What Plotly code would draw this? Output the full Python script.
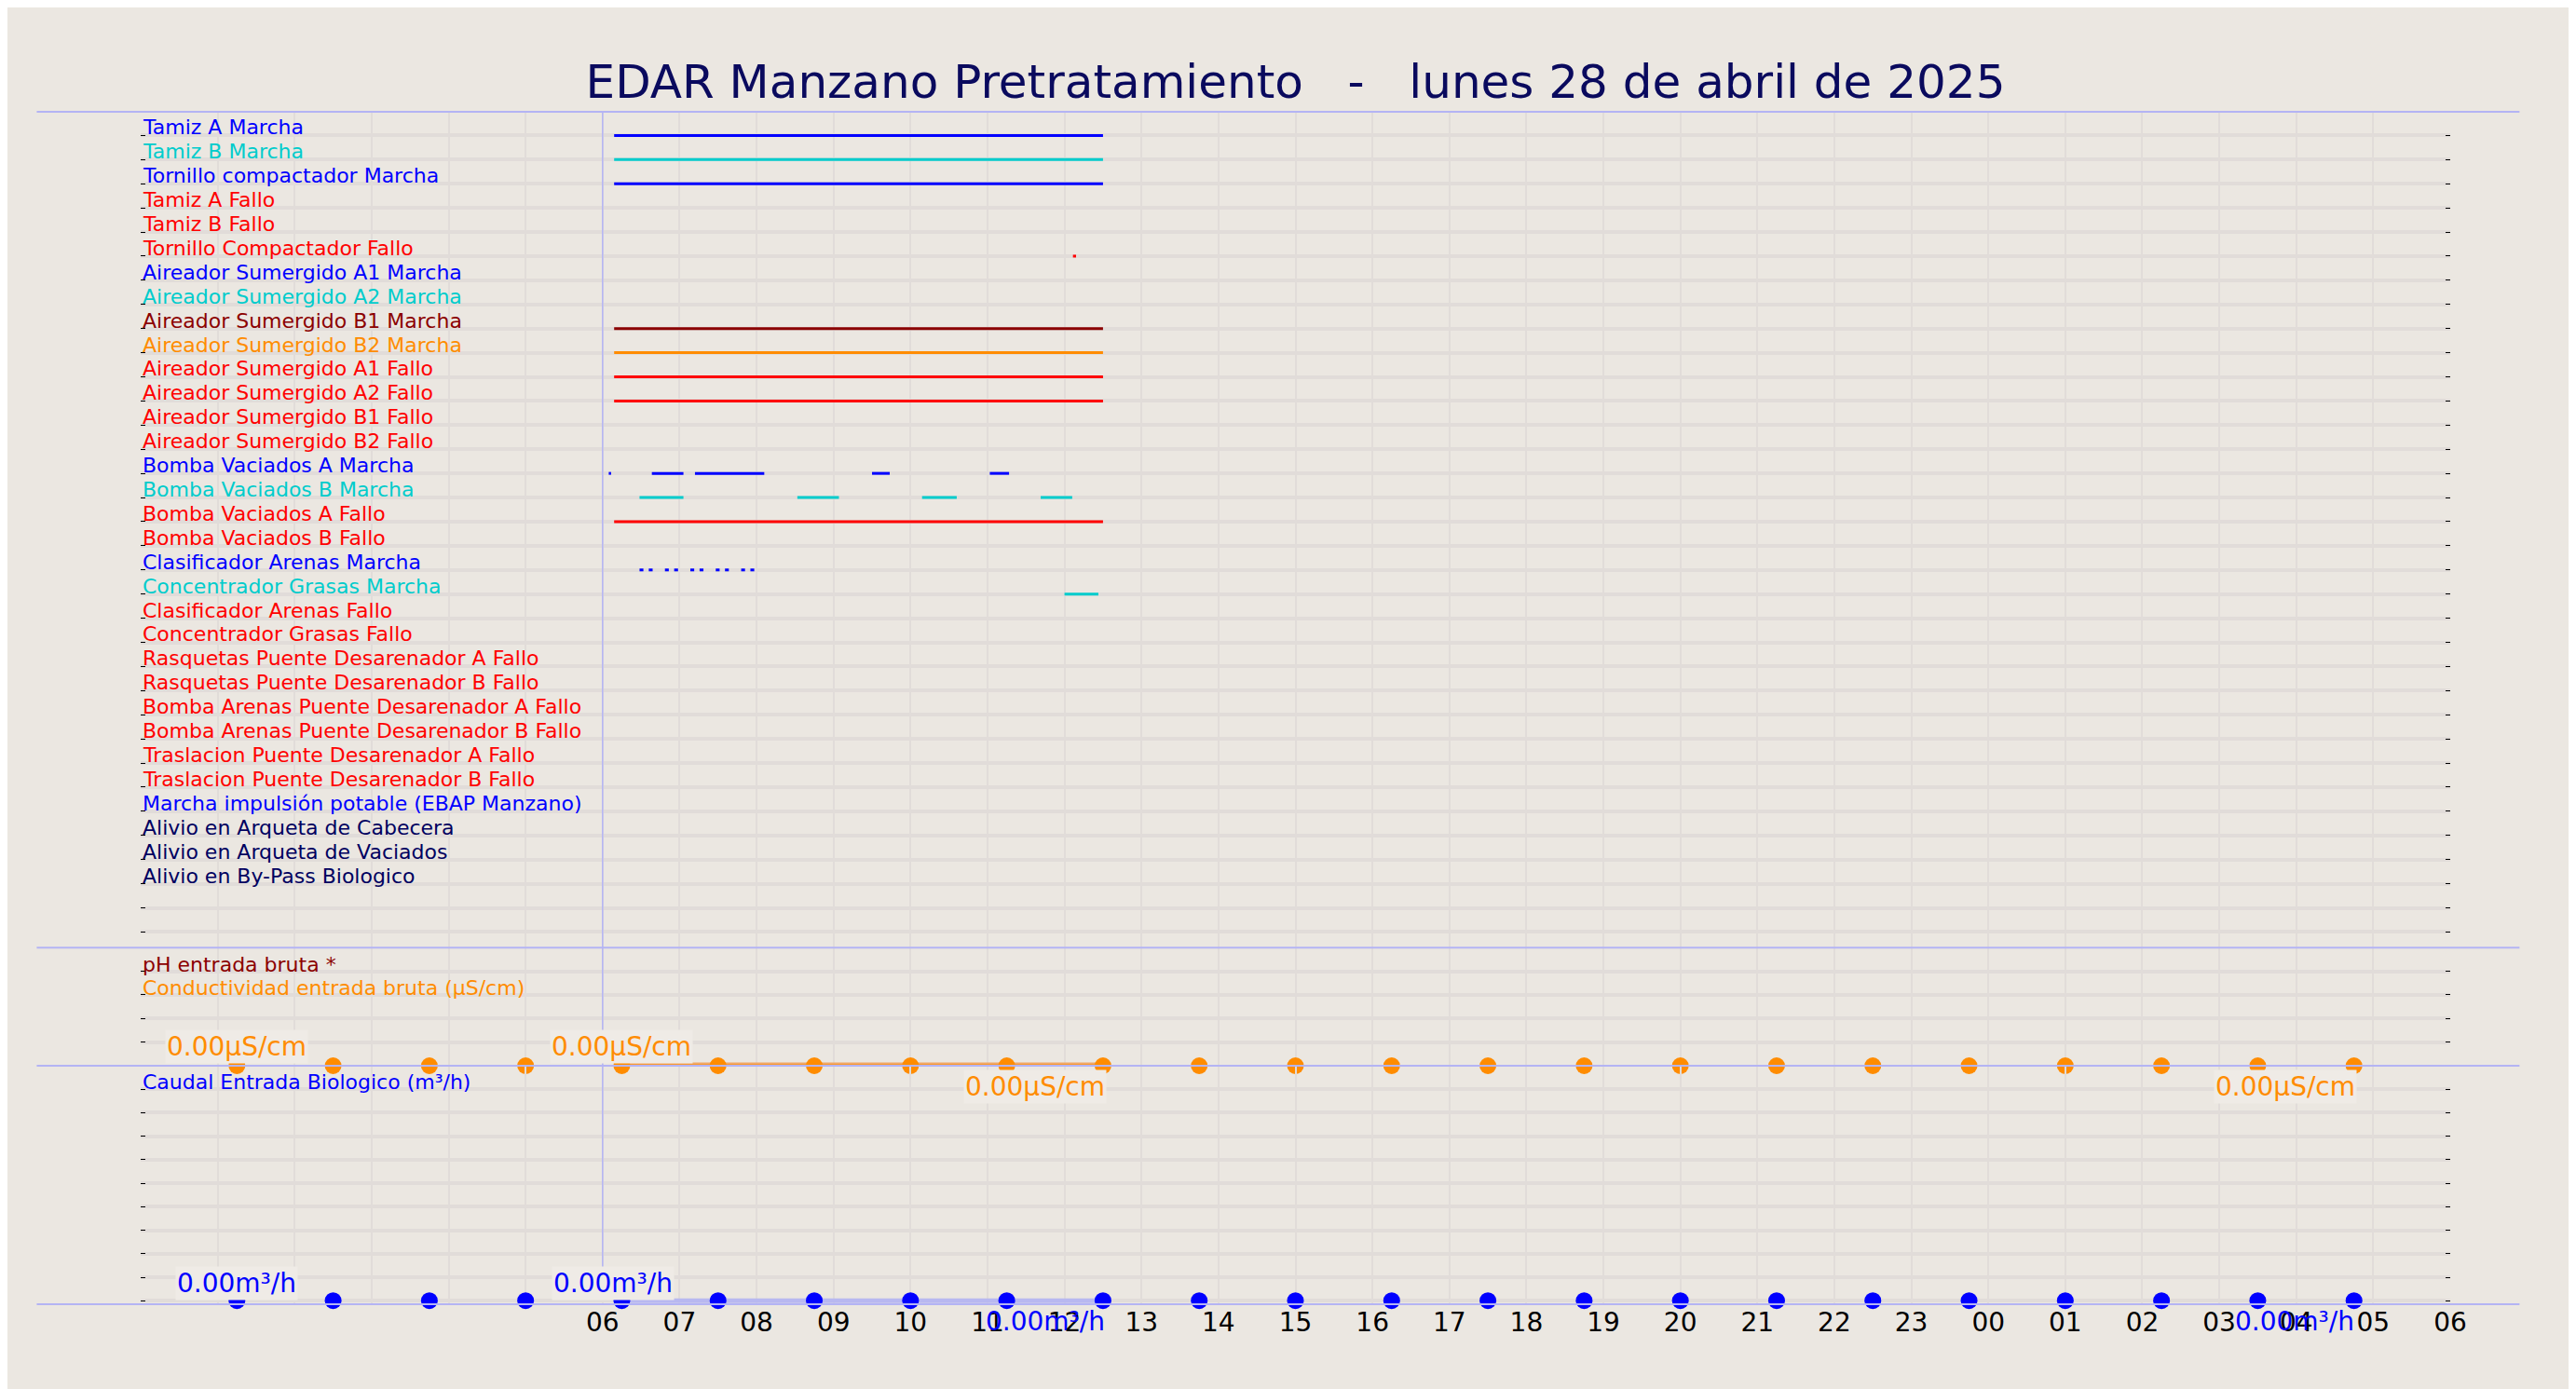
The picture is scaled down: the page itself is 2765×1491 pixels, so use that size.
import plotly.graph_objects as go

TITLE = "EDAR Manzano Pretratamiento   -   lunes 28 de abril de 2025"

# Digital signals (rows of the upper panel)
signal_names = [
    "Tamiz A Marcha", "Tamiz B Marcha", "Tornillo compactador Marcha", "Tamiz A Fallo", "Tamiz B Fallo",
    "Tornillo Compactador Fallo", "Aireador Sumergido A1 Marcha", "Aireador Sumergido A2 Marcha",
    "Aireador Sumergido B1 Marcha", "Aireador Sumergido B2 Marcha", "Aireador Sumergido A1 Fallo",
    "Aireador Sumergido A2 Fallo", "Aireador Sumergido B1 Fallo", "Aireador Sumergido B2 Fallo",
    "Bomba Vaciados A Marcha", "Bomba Vaciados B Marcha", "Bomba Vaciados A Fallo", "Bomba Vaciados B Fallo",
    "Clasificador Arenas Marcha", "Concentrador Grasas Marcha", "Clasificador Arenas Fallo",
    "Concentrador Grasas Fallo", "Rasquetas Puente Desarenador A Fallo", "Rasquetas Puente Desarenador B Fallo",
    "Bomba Arenas Puente Desarenador A Fallo", "Bomba Arenas Puente Desarenador B Fallo",
    "Traslacion Puente Desarenador A Fallo", "Traslacion Puente Desarenador B Fallo",
    "Marcha impulsión potable (EBAP Manzano)", "Alivio en Arqueta de Cabecera",
    "Alivio en Arqueta de Vaciados", "Alivio en By-Pass Biologico",
]
signal_colors = [
    "#0000ff", "#00cccc", "#0000ff", "#ff0000", "#ff0000", "#ff0000", "#0000ff", "#00cccc",
    "#8b0000", "#ff8c00", "#ff0000", "#ff0000", "#ff0000", "#ff0000", "#0000ff", "#00cccc",
    "#ff0000", "#ff0000", "#0000ff", "#00cccc", "#ff0000", "#ff0000", "#ff0000", "#ff0000",
    "#ff0000", "#ff0000", "#ff0000", "#ff0000", "#0000ff", "#000060", "#000060", "#000060",
]
# active intervals, hours since 28/04 00:00
signal_intervals = {
    0: [(6.15, 12.5)],
    1: [(6.15, 12.5)],
    2: [(6.15, 12.5)],
    5: [(12.11, 12.15)],
    8: [(6.15, 12.5)],
    9: [(6.15, 12.5)],
    10: [(6.15, 12.5)],
    11: [(6.15, 12.5)],
    14: [(6.08, 6.11), (6.64, 7.05), (7.2, 8.1), (9.5, 9.73), (11.03, 11.28)],
    15: [(6.48, 7.05), (8.53, 9.07), (10.15, 10.6), (11.69, 12.1)],
    16: [(6.15, 12.5)],
    18: [(6.48, 6.53), (6.6, 6.65), (6.81, 6.86), (6.93, 6.98), (7.14, 7.19), (7.26, 7.31),
         (7.47, 7.52), (7.59, 7.64), (7.8, 7.85), (7.92, 7.97)],
    19: [(12.0, 12.44)],
}

# Analog series
sample_hours = [1.25, 2.5, 3.75, 5.0, 6.25, 7.5, 8.75, 10.0, 11.25, 12.5, 13.75, 15.0, 16.25,
                17.5, 18.75, 20.0, 21.25, 22.5, 23.75, 25.0, 26.25, 27.5, 28.75]
conductividad = [0, 0, 0, 0, 0, 0, 0, 0, 0, 0, 0, 0, 0, 0, 0, 0, 0, 0, 0, 0, 0, 0, 0]
caudal = [0, 0, 0, 0, 0, 0, 0, 0, 0, 0, 0, 0, 0, 0, 0, 0, 0, 0, 0, 0, 0, 0, 0]
line_hours = [6.25, 7.5, 8.75, 10.0, 11.25, 12.5]
line_cond = [0, 0, 0, 0, 0, 0]
line_caudal = [0, 0, 0, 0, 0, 0]

hour_ticks = list(range(0, 31))
hour_labels = ["" if h < 6 else f"{h % 24:02d}" for h in hour_ticks]

cond_labels = [(1.25, "above"), (6.25, "above"), (11.62, "below"), (27.86, "below")]
caudal_labels = [(1.25, "above"), (6.14, "above"), (11.75, "below"), (27.98, "below")]

BG = "#ebe7e1"
GRID = "#e1dcd9"
FONT = "DejaVu Sans"

fig = go.Figure()

for row, ivs in signal_intervals.items():
    xs, ys = [], []
    for a, b in ivs:
        xs += [a, b, None]
        ys += [row, row, None]
    fig.add_trace(go.Scatter(x=xs, y=ys, mode="lines", line=dict(color=signal_colors[row], width=3),
                             xaxis="x", yaxis="y", showlegend=False, hoverinfo="skip"))

fig.add_trace(go.Scatter(x=line_hours, y=line_cond, mode="lines", line=dict(color="#f0a868", width=7),
                         xaxis="x2", yaxis="y2", showlegend=False, cliponaxis=False))
fig.add_trace(go.Scatter(x=line_hours, y=line_cond, mode="lines", line=dict(color="#ff8c00", width=3),
                         xaxis="x2", yaxis="y2", showlegend=False, cliponaxis=False))
fig.add_trace(go.Scatter(x=sample_hours, y=conductividad, mode="markers",
                         marker=dict(color="#ff8c00", size=18), xaxis="x2", yaxis="y2",
                         showlegend=False, cliponaxis=False))
fig.add_trace(go.Scatter(x=line_hours, y=line_caudal, mode="lines", line=dict(color="#b8b8f0", width=5),
                         xaxis="x3", yaxis="y3", showlegend=False, cliponaxis=False))
fig.add_trace(go.Scatter(x=sample_hours, y=caudal, mode="markers",
                         marker=dict(color="#0000ff", size=18), xaxis="x3", yaxis="y3",
                         showlegend=False, cliponaxis=False))

ann = []
for i, name in enumerate(signal_names):
    ann.append(dict(x=0, xref="x domain", y=i - 0.33, yref="y", text=name, showarrow=False,
                    xanchor="left", yanchor="middle", font=dict(color=signal_colors[i], size=22, family=FONT)))
ann.append(dict(x=0, xref="x2 domain", y=0.86, yref="y2 domain", text="pH entrada bruta *", showarrow=False,
                xanchor="left", yanchor="middle", font=dict(color="#8b0000", size=22, family=FONT)))
ann.append(dict(x=0, xref="x2 domain", y=0.66, yref="y2 domain", text="Conductividad entrada bruta (µS/cm)",
                showarrow=False, xanchor="left", yanchor="middle", font=dict(color="#ff8c00", size=22, family=FONT)))
ann.append(dict(x=0, xref="x3 domain", y=0.93, yref="y3 domain", text="Caudal Entrada Biologico (m³/h)",
                showarrow=False, xanchor="left", yanchor="middle", font=dict(color="#0000ff", size=22, family=FONT)))
for h, pos in cond_labels:
    ann.append(dict(x=h, xref="x2", y=0, yref="y2", text="0.00µS/cm", showarrow=False,
                    yanchor="bottom" if pos == "above" else "top", yshift=2 if pos == "above" else -4,
                    bgcolor="#efebe6", font=dict(color="#ff8c00", size=28, family=FONT)))
for h, pos in caudal_labels:
    ann.append(dict(x=h, xref="x3", y=0, yref="y3", text="0.00m³/h", showarrow=False,
                    yanchor="bottom" if pos == "above" else "top", yshift=0 if pos == "above" else -4,
                    bgcolor="#efebe6" if pos == "above" else "rgba(0,0,0,0)",
                    font=dict(color="#0000ff", size=28, family=FONT)))

shapes = []
for yp in [1.0, 0.299, 0.2, 0.0]:
    shapes.append(dict(type="line", xref="paper", yref="paper", x0=-0.045, x1=1.03, y0=yp, y1=yp,
                       line=dict(color="#b4b4f4", width=2)))
shapes.append(dict(type="line", xref="x", yref="paper", x0=6, x1=6, y0=0.025, y1=1.0,
                   line=dict(color="#b4b4f4", width=1.5)))

xcommon = dict(range=[0, 30], tickvals=hour_ticks, ticktext=hour_labels, showgrid=True, gridcolor=GRID,
               gridwidth=2, zeroline=False, showline=False, ticks="")
ycommon = dict(showgrid=True, gridcolor=GRID, gridwidth=4, zeroline=False, showticklabels=False,
               ticks="inside", ticklen=5, tickcolor="black", mirror="ticks", showline=False)

fig.update_layout(
    width=2765, height=1491,
    paper_bgcolor=BG, plot_bgcolor=BG,
    margin=dict(l=143, r=143, t=112, b=99),
    title=dict(text=TITLE, x=0.5, xanchor="center", y=0.947, yanchor="middle",
               font=dict(size=50, color="#0a0a5e", family=FONT)),
    font=dict(family=FONT),
    xaxis=dict(domain=[0, 1], anchor="y", showticklabels=False, **xcommon),
    xaxis2=dict(domain=[0, 1], anchor="y2", showticklabels=False, matches="x", **xcommon),
    xaxis3=dict(domain=[0, 1], anchor="y3", showticklabels=True, matches="x",
                tickfont=dict(size=28, color="black", family=FONT), **xcommon),
    yaxis=dict(domain=[0.299, 1.0], range=[33.65, -0.98], tickvals=list(range(0, 34)), **ycommon),
    yaxis2=dict(domain=[0.2, 0.299], range=[0, 1], dtick=0.2, **ycommon),
    yaxis3=dict(domain=[0, 0.2], range=[-0.015, 1], dtick=0.1, **ycommon),
    annotations=ann, shapes=shapes,
)

fig.write_html("out.html")
